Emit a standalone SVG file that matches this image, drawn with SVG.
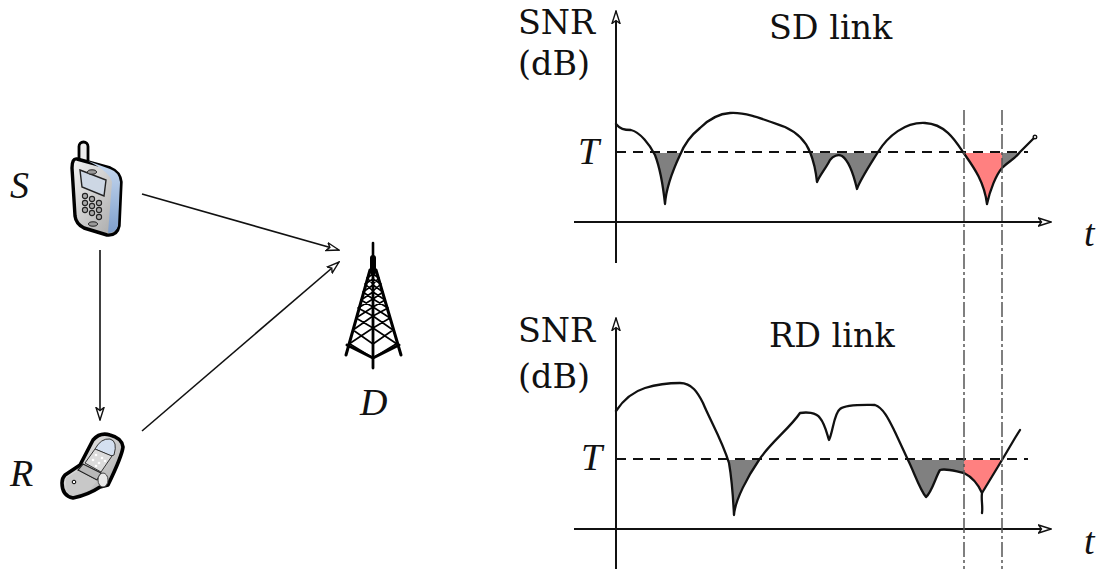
<svg xmlns="http://www.w3.org/2000/svg" width="1099" height="569" viewBox="0 0 1099 569">
<style>
.lbl{font-family:"DejaVu Serif",serif;font-size:33.4px;fill:#111}
.var{font-family:"Liberation Serif",serif;font-style:italic;font-size:38px;fill:#111}
.ax{stroke:#111;stroke-width:2;fill:none;marker-end:url(#ah)}
.link{stroke:#111;stroke-width:1.6;fill:none;marker-end:url(#ah)}
.curve{stroke:#111;stroke-width:2.3;fill:none;stroke-linejoin:round;stroke-linecap:round}
.dash{stroke:#111;stroke-width:1.9;stroke-dasharray:10 7;fill:none}
.dd{stroke:#555;stroke-width:1.5;stroke-dasharray:15 3 3 3;fill:none}
.g{fill:#808080}.r{fill:#ff8080}
.o{stroke:#000;stroke-linejoin:round;stroke-linecap:round}
.t{fill:none;stroke:#000;stroke-linecap:round;stroke-linejoin:round}
</style>
<defs>
<marker id="ah" markerUnits="userSpaceOnUse" markerWidth="14" markerHeight="12" refX="13" refY="6" orient="auto" viewBox="0 0 14 12">
<path d="M0.5,2 L13,6 L0.5,10 L3.5,6 Z" fill="#fff" stroke="#111" stroke-width="1.4"/>
</marker>
<linearGradient id="sil" x1="0" y1="0" x2="1" y2="1"><stop offset="0" stop-color="#f4f4f4"/><stop offset="1" stop-color="#a4a4a4"/></linearGradient>
<linearGradient id="blu" x1="0" y1="0" x2="0" y2="1"><stop offset="0" stop-color="#c8daf0"/><stop offset="1" stop-color="#7f9fcc"/></linearGradient>
<path id="sd" d="M616,124 C620,129 624,130 631,130 C640,132 650,145 655,155 C660,168 663,185 665,204 C666,190 672,172 680,155 C684,145 690,136 700,128 C706,122 715,114 730,113 C745,112 760,118 785,127 C798,133 806,142 810,152 C814,162 816,172 817,182 C820,175 826,168 830,160 C833,156 838,154 842,156 C848,160 853,172 857,189 C860,180 870,165 878,152 C888,136 905,122 925,123 C945,124 955,140 963,152 C972,165 984,180 987,204 C990,190 996,175 1002,168 C1010,160 1014,160 1020,152 L1034,138"/>
<path id="rd" d="M616,411 C622,402 632,392 645,388 C655,385 670,383 680,383 C692,383 698,393 703,403 C710,420 722,440 729,463 C732,480 733,495 734,515 C735,500 748,476 759,460 C770,443 790,428 800,413 C806,412 816,412 820,418 C825,424 827,434 829,440 C833,432 834,413 840,409 C846,404 865,405 875,405 C884,408 890,422 895,432 L908,460 C914,472 920,490 926,497 C932,492 936,476 940,470 C946,468 954,471 964,473 C972,477 978,484 982,493 C981,500 983,506 982,513 M982,493 L1002,460 L1015,438 L1020,430"/>
<clipPath id="c1g"><rect x="616" y="153" width="348" height="60"/><rect x="1002" y="153" width="40" height="60"/></clipPath>
<clipPath id="c1r"><rect x="964" y="153" width="38" height="60"/></clipPath>
<clipPath id="c2g"><rect x="616" y="460" width="348" height="60"/></clipPath>
<clipPath id="c2r"><rect x="964" y="460" width="38" height="60"/></clipPath>
</defs>

<g id="connectors">
<line class="link" x1="142" y1="194" x2="339" y2="250"/>
<line class="link" x1="142" y1="431" x2="339" y2="262"/>
<line class="link" x1="100" y1="250" x2="100" y2="420"/>
</g>

<g id="node-S">
<text class="var" x="10" y="198">S</text>
<rect x="79" y="142" width="9" height="24" rx="4.5" fill="#eee" stroke="#000" stroke-width="2.8"/>
<path class="o" d="M77,159 L110,168 Q120,172 121,182 L119,226 Q117,236 107,235 L84,228 Q76,224 75,216 L72,168 Q72,158 77,159 Z" fill="url(#sil)" stroke-width="3.4"/>
<path d="M88,161 L110,169 Q119,172 120,182 L118,226 Q116,233 108,233 L112,182 Q110,172 88,161 Z" fill="url(#blu)"/>
<path d="M80,170 L106,180 L104,196 L82,187 Z" fill="#cdd7e4" stroke="#222" stroke-width="1.4"/>
<ellipse cx="92" cy="172" rx="4.5" ry="2.2" fill="#999" stroke="#222"/>
<ellipse cx="93" cy="224" rx="4.5" ry="2.2" fill="#999" stroke="#222"/>
<g fill="#aaa" stroke="#222" stroke-width="1.1">
<circle cx="85" cy="196" r="2.6"/><circle cx="92" cy="199" r="2.6"/><circle cx="99" cy="203" r="2.6"/>
<circle cx="85" cy="203" r="2.6"/><circle cx="92" cy="206" r="2.6"/><circle cx="99" cy="210" r="2.6"/>
<circle cx="85" cy="210" r="2.6"/><circle cx="92" cy="213" r="2.6"/><circle cx="99" cy="217" r="2.6"/>
</g>
</g>

<g id="node-R">
<text class="var" x="10" y="486">R</text>
<path class="o" d="M65,475 L80,465 L93,440 Q100,432 110,435 Q122,438 123,447 Q122,456 108,485 L100,487 Q88,495 73,498 Q62,496 62,483 Q62,478 65,475 Z" fill="url(#sil)" stroke-width="3.6"/>
<path d="M95,449 Q101,438 110,439 Q118,441 114,455 L111,456 Z" fill="#d4e0f0" stroke="#333" stroke-width="1"/>
<path d="M95,449 L112,456 L101,472 L85,463 Z" fill="#dcdcdc" stroke="#333" stroke-width="1"/>
<g fill="#fff"><circle cx="96" cy="455" r="1.3"/><circle cx="102" cy="458" r="1.3"/><circle cx="93" cy="460" r="1.3"/><circle cx="99" cy="463" r="1.3"/><circle cx="105" cy="461" r="1.3"/><circle cx="96" cy="466" r="1.3"/></g>
<path d="M83,464 L101,473 L97,480 L78,470 Z" fill="#b8b8b8" stroke="#222" stroke-width="1.2"/>
<path d="M66,478 L78,471 L97,481 L90,490 L74,495 Q66,493 66,484 Z" fill="#c8c8c8"/>
<circle cx="74" cy="482" r="1.8" fill="#fff" stroke="#000"/>
<ellipse cx="103" cy="480" rx="5" ry="7" fill="#e8e8e8" stroke="#444" stroke-width="1"/>
</g>

<g id="node-D">
<text class="var" x="360" y="415">D</text>
<line class="t" x1="373" y1="243" x2="373" y2="262" stroke-width="2.6"/>
<line class="t" x1="373" y1="258" x2="373" y2="272" stroke-width="6"/>
<line class="t" x1="373" y1="368" x2="373" y2="270" stroke-width="2.8"/>
<path class="t" stroke-width="3" d="M370,270 L346,355 M376,270 L401,355 M347,345 L373,358 L399,345"/>
<path class="t" stroke-width="1.6" d="M349,344 L373,328 L397,344 M350,344 L373,358 L396,344 M353,330 L373,316 L393,330 M353,330 L373,344 L393,330 M356,318 L373,307 L390,318 M356,318 L373,328 L390,318 M358,308 L373,299 L388,308 M358,308 L373,316 L388,308 M361,300 L373,292 L385,300 M361,300 L373,307 L385,300 M363,292 L373,285 L383,292 M363,292 L373,299 L383,292 M365,284 L373,279 L381,284 M365,284 L373,291 L381,284 M367,278 L373,274 L379,278 M367,278 L373,284 L379,278"/>
</g>

<g id="chart-sd">
<text class="lbl" x="518" y="34">SNR</text>
<text class="lbl" x="518" y="75">(dB)</text>
<text class="lbl" x="769" y="39">SD link</text>
<text class="var" x="578" y="164">T</text>
<text class="var" x="1084" y="246">t</text>
<path class="g" clip-path="url(#c1g)" d="M616,124 C620,129 624,130 631,130 C640,132 650,145 655,155 C660,168 663,185 665,204 C666,190 672,172 680,155 C684,145 690,136 700,128 C706,122 715,114 730,113 C745,112 760,118 785,127 C798,133 806,142 810,152 C814,162 816,172 817,182 C820,175 826,168 830,160 C833,156 838,154 842,156 C848,160 853,172 857,189 C860,180 870,165 878,152 C888,136 905,122 925,123 C945,124 955,140 963,152 C972,165 984,180 987,204 C990,190 996,175 1002,168 C1010,160 1014,160 1020,152 L1034,138 L1034,100 L616,100 Z"/>
<path class="r" clip-path="url(#c1r)" d="M963,152 C972,165 984,180 987,204 C990,190 996,175 1002,168 L1002,100 L963,100 Z"/>
<line class="ax" x1="616" y1="263" x2="616" y2="11"/>
<line class="ax" x1="574" y1="222" x2="1051" y2="222"/>
<line class="dash" x1="616" y1="152" x2="1028" y2="152"/>
<use href="#sd" class="curve"/>
<circle cx="1035" cy="137" r="1.8" fill="#fff" stroke="#111" stroke-width="1.4"/>
</g>

<g id="chart-rd">
<text class="lbl" x="518" y="342">SNR</text>
<text class="lbl" x="518" y="388">(dB)</text>
<text class="lbl" x="769" y="347">RD link</text>
<text class="var" x="581" y="470">T</text>
<text class="var" x="1084" y="554">t</text>
<path class="g" clip-path="url(#c2g)" d="M703,403 C710,420 722,440 729,463 C732,480 733,495 734,515 C735,500 748,476 759,460 L770,440 L900,440 L908,460 C914,472 920,490 926,497 C932,492 936,476 940,470 C946,468 954,471 964,473 L964,440 L703,440 Z"/>
<path class="r" clip-path="url(#c2r)" d="M964,473 C972,477 978,484 982,493 L1002,460 L1002,440 L964,440 Z"/>
<line class="ax" x1="616" y1="569" x2="616" y2="318"/>
<line class="ax" x1="574" y1="529" x2="1051" y2="529"/>
<line class="dash" x1="616" y1="459" x2="1028" y2="459"/>
<use href="#rd" class="curve"/>
</g>

<g id="markers">
<line class="dd" x1="964" y1="110" x2="964" y2="569"/>
<line class="dd" x1="1002" y1="110" x2="1002" y2="569"/>
</g>
</svg>
